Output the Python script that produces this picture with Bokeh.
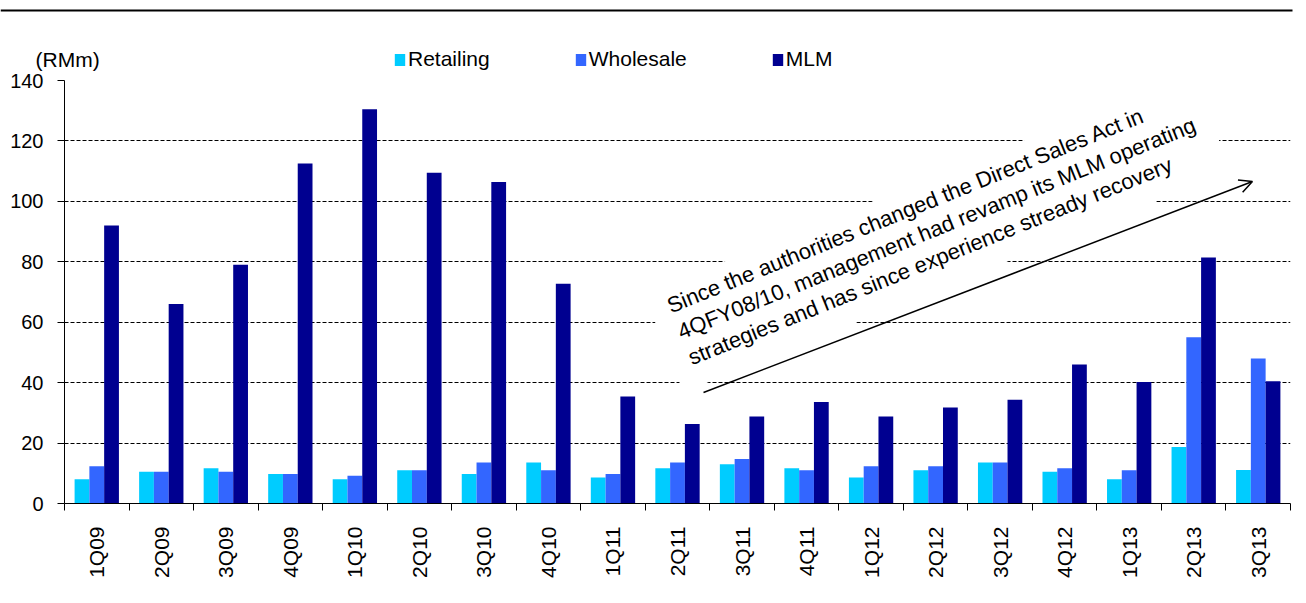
import numpy as np
from bokeh.plotting import figure
from bokeh.layouts import column
from bokeh.models import (ColumnDataSource, Range1d, FixedTicker, CustomJSTickFormatter,
                          Label, Arrow, OpenHead, BoxAnnotation)
from bokeh.embed import file_html
from bokeh.resources import INLINE

quarters = ["1Q09", "2Q09", "3Q09", "4Q09", "1Q10", "2Q10", "3Q10", "4Q10", "1Q11", "2Q11",
            "3Q11", "4Q11", "1Q12", "2Q12", "3Q12", "4Q12", "1Q13", "2Q13", "3Q13"]
retailing = [8.0, 10.5, 11.7, 9.8, 8.0, 11.0, 9.8, 13.6, 8.6, 11.7,
             13.0, 11.7, 8.6, 11.0, 13.6, 10.5, 8.0, 18.7, 11.1]
wholesale = [12.3, 10.5, 10.5, 9.8, 9.2, 11.0, 13.6, 11.0, 9.8, 13.6,
             14.7, 11.0, 12.3, 12.3, 13.6, 11.7, 11.0, 55.0, 48.0]
mlm = [92.0, 66.0, 79.0, 112.5, 130.5, 109.5, 106.4, 72.7, 35.4, 26.3,
       28.8, 33.6, 28.8, 31.8, 34.3, 46.0, 40.2, 81.4, 40.5]
y_ticks = [0, 20, 40, 60, 80, 100, 120, 140]
series_names = ["Retailing", "Wholesale", "MLM"]
colors = ["#00CCFF", "#3366FF", "#000090"]
unit_label = "(RMm)"

FONT = "Liberation Sans"
W = 1306
HEAD_H = 71
n = len(quarters)
centers = np.arange(n) + 0.5
bar_w = 0.229

# ---------- header strip: rule, unit label, legend ----------
ph = figure(width=W, height=HEAD_H, x_range=Range1d(0, W), y_range=Range1d(HEAD_H, 0),
            output_backend="svg", toolbar_location=None, min_border=0,
            x_axis_location=None, y_axis_location=None)
ph.outline_line_color = None
ph.grid.visible = False
ph.background_fill_color = "white"
ph.border_fill_color = "white"
if "frame_align" in ph.properties():
    ph.frame_align = False

# legend swatches (zero-height bars placed outside the visible range)
for name, col in zip(series_names, colors):
    ph.vbar(x=[-100], top=[0], bottom=0, width=1, fill_color=col, line_color=None,
            legend_label=name)

ph.add_layout(BoxAnnotation(left=0, right=1292, top=9, bottom=11,
                            fill_color="black", fill_alpha=1, line_color=None))
ph.add_layout(Label(x=35, y=58.5, text=unit_label, text_align="left", text_baseline="middle",
                    text_font=FONT, text_font_size="21px", text_color="black"))

lg = ph.legend[0]
lg.orientation = "horizontal"
lg.location = (393, 0)
lg.padding = 0
lg.margin = 0
lg.spacing = 84
lg.border_line_color = None
lg.background_fill_alpha = 0
lg.glyph_width = 13
lg.glyph_height = 15
lg.label_standoff = 2
lg.label_text_font = FONT
lg.label_text_font_size = "21px"
lg.label_text_color = "black"

# ---------- main chart ----------
p = figure(width=W, height=603 - HEAD_H, x_range=Range1d(0, n), y_range=Range1d(0, 140),
           output_backend="svg", toolbar_location=None,
           min_border_left=64, min_border_right=16, min_border_top=80 - HEAD_H,
           min_border_bottom=100)
p.outline_line_color = None
p.background_fill_color = "white"
p.border_fill_color = "white"
if "frame_align" in p.properties():
    p.frame_align = False

for k, (vals, col) in enumerate(zip([retailing, wholesale, mlm], colors)):
    src = ColumnDataSource(dict(x=centers + (k - 1) * bar_w, top=vals))
    p.vbar(x="x", top="top", bottom=0, width=bar_w, source=src, fill_color=col,
           line_color=None)

p.xgrid.visible = False
p.ygrid.grid_line_color = "black"
p.ygrid.grid_line_dash = "4 2"
p.ygrid.grid_line_width = 1

p.yaxis.ticker = FixedTicker(ticks=y_ticks)
p.yaxis.axis_line_color = "black"
p.yaxis.major_tick_in = 0
p.yaxis.major_tick_out = 7
p.yaxis.minor_tick_line_color = None
p.yaxis.major_label_standoff = 14
p.yaxis.major_label_text_font = FONT
p.yaxis.major_label_text_font_size = "20px"
p.yaxis.major_label_text_color = "black"

p.xaxis.ticker = FixedTicker(ticks=list(centers), minor_ticks=list(np.arange(n + 1)))
p.xaxis.formatter = CustomJSTickFormatter(args=dict(labels=quarters),
                                          code="return labels[Math.floor(tick)];")
p.xaxis.axis_line_color = "black"
p.xaxis.major_tick_in = 0
p.xaxis.major_tick_out = 0
p.xaxis.minor_tick_in = 0
p.xaxis.minor_tick_out = 7
p.xaxis.minor_tick_line_color = "black"
p.xaxis.major_label_orientation = np.pi / 2
p.xaxis.major_label_standoff = 16
p.xaxis.major_label_text_font = FONT
p.xaxis.major_label_text_font_size = "21px"
p.xaxis.major_label_text_color = "black"

# white mask behind the annotation text
p.rect(x=[13.53], y=[89.7], width=591, height=106, angle=22, angle_units="deg",
       width_units="screen", height_units="screen", fill_color="white", line_color=None)

note = ("Since the authorities changed the Direct Sales Act in\n"
        "4QFY08/10, management had revamp its MLM operating\n"
        "strategies and has since experience stready recovery")
p.add_layout(Label(x=9.283, y=69.04, text=note, angle=22, angle_units="deg",
                   text_align="left", text_baseline="top", text_font=FONT,
                   text_font_size="22px", text_color="black", text_line_height=1.12))

p.add_layout(Arrow(x_start=9.903, y_start=36.74, x_end=18.41, y_end=106.57,
                   line_color="black", line_width=1.5,
                   end=OpenHead(size=13, line_color="black", line_width=1.5)))

layout = column(ph, p, spacing=0)
open("out.html", "w").write(file_html(layout, INLINE))
